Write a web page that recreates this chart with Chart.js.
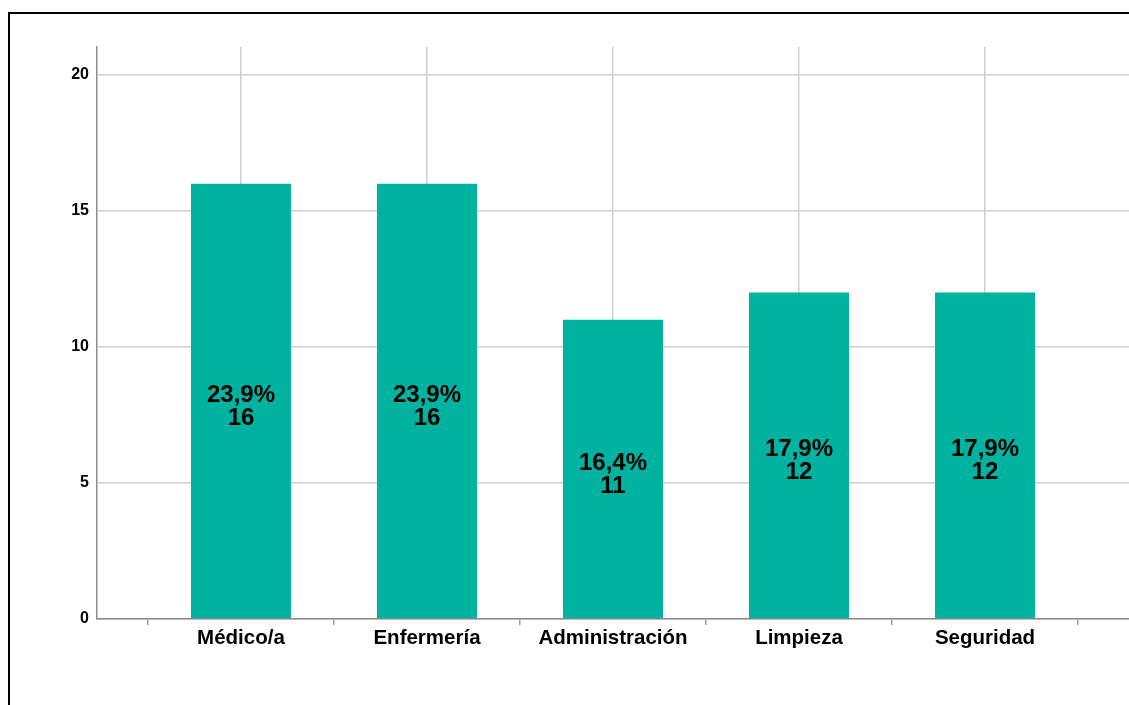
<!DOCTYPE html>
<html>
<head>
<meta charset="utf-8">
<script src="https://cdn.jsdelivr.net/npm/chart.js@4.4.0/dist/chart.umd.min.js"></script>
<style>
    html, body { margin: 0; padding: 0; background: #fff; }
    body { width: 1129px; height: 705px; position: relative; overflow: hidden; }
    #frame {
        position: absolute; left: 8px; top: 12px; right: 0; bottom: 0;
        border-left: 2px solid #000; border-top: 2px solid #000;
    }
    #wrap { position: absolute; left: 0; top: 0; width: 1129px; height: 705px; }
</style>
</head>
<body>
<div id="frame"></div>
<div id="wrap"><canvas id="jobChart"></canvas></div>
<script>
const categories = ['Médico/a', 'Enfermería', 'Administración', 'Limpieza', 'Seguridad'];
const counts = [16, 16, 11, 12, 12];
const percents = ['23,9%', '23,9%', '16,4%', '17,9%', '17,9%'];
const yTicks = [0, 5, 10, 15, 20];

const fontFamily = '"Liberation Sans", Arial, sans-serif';

// draws "pct\ncount" in the middle of each bar
const barLabels = {
    id: 'barLabels',
    afterDatasetsDraw(chart) {
        const ctx = chart.ctx;
        const meta = chart.getDatasetMeta(0);
        ctx.save();
        ctx.font = 'bold 24px ' + fontFamily;
        ctx.fillStyle = '#000';
        ctx.textAlign = 'center';
        ctx.textBaseline = 'alphabetic';
        meta.data.forEach((bar, i) => {
            const mid = (bar.y + bar.base) / 2;
            ctx.fillText(percents[i], bar.x, mid + 1);
            ctx.fillText(String(counts[i]), bar.x, mid + 24);
        });
        ctx.restore();
    }
};

function buildXTicks() {
    const ticks = [];
    for (let i = 0; i < categories.length; i++) {
        ticks.push({ value: i - 0.5 });
        ticks.push({ value: i });
    }
    ticks.push({ value: categories.length - 0.5 });
    return ticks;
}

const isCenter = (c) => c.tick !== undefined && Number.isInteger(c.tick.value);

const ctx = document.getElementById('jobChart').getContext('2d');
const jobChart = new Chart(ctx, {
    type: 'bar',
    data: {
        datasets: [{
            data: counts.map((v, i) => ({ x: i, y: v })),
            backgroundColor: '#00b3a0',
            borderWidth: 0,
            categoryPercentage: 1,
            barPercentage: 1.075,
        }]
    },
    options: {
        responsive: true,
        maintainAspectRatio: false,
        animation: false,
        layout: { padding: { top: 47, left: 0, right: 0, bottom: 0 } },
        plugins: {
            legend: { display: false },
            tooltip: { enabled: false },
        },
        scales: {
            x: {
                type: 'linear',
                offset: false,
                min: -0.774,
                max: categories.length - 1 + 0.774,
                afterBuildTicks: (scale) => { scale.ticks = buildXTicks(); },
                afterFit: (scale) => { scale.height = 86; },
                border: { color: '#8c8c8c', width: 1.5 },
                grid: {
                    offset: false,
                    drawOnChartArea: true,
                    drawTicks: true,
                    tickLength: 6,
                    color: (c) => isCenter(c) ? '#cfcfcf' : 'rgba(0,0,0,0)',
                    tickColor: (c) => isCenter(c) ? 'rgba(0,0,0,0)' : '#a0a0a0',
                    lineWidth: 1.5,
                },
                ticks: {
                    autoSkip: false,
                    maxRotation: 0,
                    padding: 1,
                    color: '#000',
                    font: { family: fontFamily, size: 20.5, weight: 'bold' },
                    callback: (value) => Number.isInteger(value) ? categories[value] : '',
                },
            },
            y: {
                min: 0,
                max: 21.03,
                afterBuildTicks: (scale) => { scale.ticks = yTicks.map(v => ({ value: v })); },
                afterFit: (scale) => { scale.width = 97; },
                border: { color: '#8c8c8c', width: 1.5 },
                grid: {
                    drawTicks: false,
                    color: '#cfcfcf',
                    lineWidth: 1.5,
                },
                ticks: {
                    padding: 8,
                    color: '#000',
                    font: { family: fontFamily, size: 16, weight: 'bold' },
                },
            },
        },
    },
    plugins: [barLabels],
});
</script>
</body>
</html>
